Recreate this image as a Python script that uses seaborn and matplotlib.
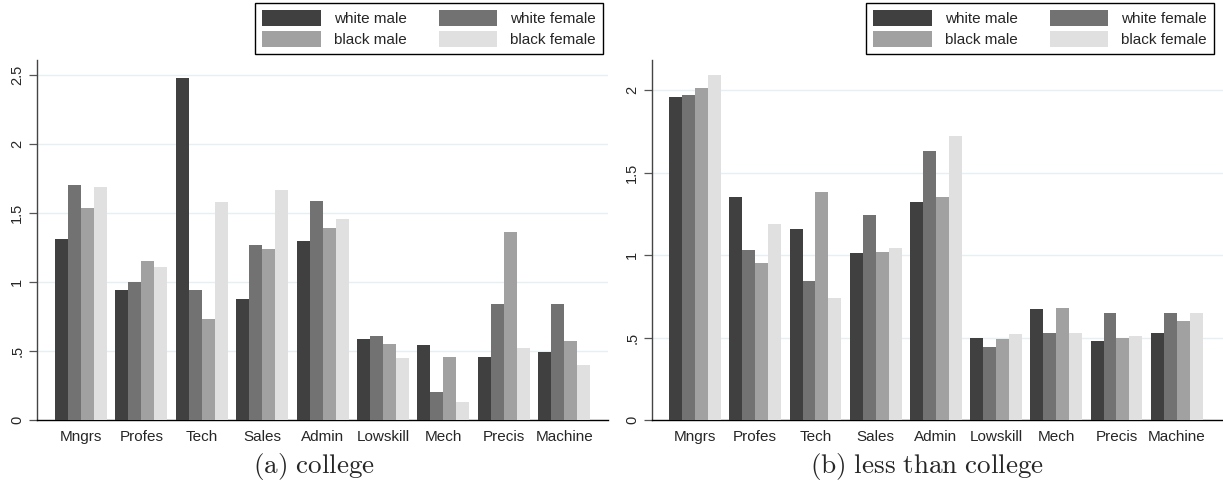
import matplotlib
matplotlib.use("Agg")
import matplotlib.pyplot as plt
from matplotlib.patches import Patch
import seaborn as sns
import pandas as pd

occupations = ["Mngrs", "Profes", "Tech", "Sales", "Admin", "Lowskill", "Mech", "Precis", "Machine"]
groups = ["white male", "white female", "black male", "black female"]
colors = ["#404040", "#727272", "#a1a1a1", "#e0e0e0"]

# (a) college
college_white_male = [1.31, 0.94, 2.48, 0.88, 1.30, 0.59, 0.54, 0.46, 0.49]
college_white_female = [1.70, 1.00, 0.94, 1.27, 1.59, 0.61, 0.20, 0.84, 0.84]
college_black_male = [1.54, 1.15, 0.73, 1.24, 1.39, 0.55, 0.46, 1.36, 0.57]
college_black_female = [1.69, 1.11, 1.58, 1.67, 1.46, 0.45, 0.13, 0.52, 0.40]

# (b) less than college
lesscol_white_male = [1.96, 1.35, 1.16, 1.01, 1.32, 0.50, 0.67, 0.48, 0.53]
lesscol_white_female = [1.97, 1.03, 0.84, 1.24, 1.63, 0.44, 0.53, 0.65, 0.65]
lesscol_black_male = [2.01, 0.95, 1.38, 1.02, 1.35, 0.49, 0.68, 0.50, 0.60]
lesscol_black_female = [2.09, 1.19, 0.74, 1.04, 1.72, 0.52, 0.53, 0.51, 0.65]

captions = [r"$\mathrm{(a)\ college}$", r"$\mathrm{(b)\ less\ than\ college}$"]


def long_frame(series):
    rows = []
    for grp, vals in zip(groups, series):
        for occ, v in zip(occupations, vals):
            rows.append({"occupation": occ, "group": grp, "value": v})
    return pd.DataFrame(rows)


panels = [
    dict(data=long_frame([college_white_male, college_white_female,
                          college_black_male, college_black_female]),
         ticks=[0, 0.5, 1, 1.5, 2, 2.5], labels=["0", ".5", "1", "1.5", "2", "2.5"],
         ylim=(0, 2.609), xlim=(-0.733, 8.725),
         rect=[36.7 / 1223, 64 / 484, 571.3 / 1223, 360 / 484],
         legend_right=603, caption_x=314),
    dict(data=long_frame([lesscol_white_male, lesscol_white_female,
                          lesscol_black_male, lesscol_black_female]),
         ticks=[0, 0.5, 1, 1.5, 2], labels=["0", ".5", "1", "1.5", "2"],
         ylim=(0, 2.182), xlim=(-0.72, 8.77),
         rect=[651.7 / 1223, 64 / 484, 571.3 / 1223, 360 / 484],
         legend_right=1214, caption_x=927),
]

sns.set_theme(style="white")
plt.rcParams["font.family"] = ["Liberation Sans", "DejaVu Sans"]
plt.rcParams["mathtext.fontset"] = "cm"

fig = plt.figure(figsize=(12.23, 4.84), dpi=100)

# two-column legend read row by row: white male | white female / black male | black female
legend_order = [0, 2, 1, 3]

for p, caption in zip(panels, captions):
    ax = fig.add_axes(p["rect"])
    sns.barplot(data=p["data"], x="occupation", y="value", hue="group",
                order=occupations, hue_order=groups, palette=colors,
                width=0.86, gap=0, linewidth=0, legend=False, ax=ax,
                zorder=3)
    ax.set_xlim(*p["xlim"])
    ax.set_ylim(*p["ylim"])
    ax.set_yticks(p["ticks"])
    ax.set_yticklabels(p["labels"], rotation=90, va="center", fontsize=10.5)
    ax.tick_params(axis="y", length=6, width=0.9, color="#555555", pad=3,
                   left=True)
    ax.tick_params(axis="x", length=0, labelsize=11, pad=7)
    for t in p["ticks"][1:]:
        ax.axhline(t, color="#e6eff1", linewidth=1.0, zorder=1)
    ax.set_xlabel("")
    ax.set_ylabel("")
    for side in ["top", "right"]:
        ax.spines[side].set_visible(False)
    ax.spines["left"].set_visible(True)
    ax.spines["left"].set_color("#444444")
    ax.spines["left"].set_linewidth(1.0)
    ax.spines["bottom"].set_visible(True)
    ax.spines["bottom"].set_color("black")
    ax.spines["bottom"].set_linewidth(1.0)

    handles = [Patch(facecolor=colors[i], edgecolor="none") for i in legend_order]
    labels = [groups[i] for i in legend_order]
    fig.legend(handles, labels, ncol=2, loc="upper right",
               bbox_to_anchor=(p["legend_right"] / 1223, 1 - 3 / 484),
               fontsize=11, frameon=True, fancybox=False, edgecolor="black",
               framealpha=1, handlelength=3.85, handleheight=1.2,
               handletextpad=0.85, columnspacing=2.1, labelspacing=0.35,
               borderpad=0.45, borderaxespad=0)

    fig.text(p["caption_x"] / 1223, 1 - 467 / 484, caption,
             ha="center", va="center", fontsize=19.5)

fig.savefig("out.png", dpi=100)
